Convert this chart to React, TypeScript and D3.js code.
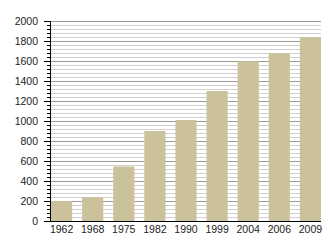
import React from "react";
import * as d3 from "d3";

const years = ["1962", "1968", "1975", "1982", "1990", "1999", "2004", "2006", "2009"];
const values = [200, 238, 545, 900, 1010, 1300, 1598, 1678, 1838];
const yTicks = [0, 200, 400, 600, 800, 1000, 1200, 1400, 1600, 1800, 2000];

export default function App() {
  const W = 330, H = 250;
  const x0 = 50.5, x1 = 321, yTop = 21, yBot = 221;
  const y = d3.scaleLinear().domain([0, 2000]).range([yBot, yTop]);
  const x = d3.scaleBand<string>().domain(years).range([51, 321]).paddingInner(0.32).paddingOuter(0);
  const minor = d3.range(0, 2001, 40).filter((v) => v % 200 !== 0);
  const font = "'Liberation Sans', Arial, sans-serif";
  return (
    <svg width={W} height={H} style={{ position: "absolute", left: 0, top: 0, background: "#fff" }}>
      {minor.map((v) => (
        <line key={"m" + v} x1={x0} x2={x1} y1={Math.round(y(v)) + 0.5} y2={Math.round(y(v)) + 0.5} stroke="#d0d0d0" strokeWidth={1} />
      ))}
      {yTicks.filter((v) => v > 0).map((v) => (
        <line key={"M" + v} x1={x0} x2={x1} y1={Math.round(y(v)) + 0.5} y2={Math.round(y(v)) + 0.5} stroke="#9a9a9a" strokeWidth={1} />
      ))}
      {years.map((yr, i) => (
        <rect key={yr} x={x(yr)} width={x.bandwidth()} y={y(values[i])} height={yBot - y(values[i])} fill="#cbc29c" />
      ))}
      <line x1={x0} x2={x0} y1={yTop} y2={yBot + 0.5} stroke="#000" strokeWidth={1} />
      <line x1={x0} x2={x1} y1={yBot + 0.5} y2={yBot + 0.5} stroke="#000" strokeWidth={1} />
      {minor.map((v) => (
        <line key={"mt" + v} x1={47} x2={x0} y1={Math.round(y(v)) + 0.5} y2={Math.round(y(v)) + 0.5} stroke="#000" strokeWidth={1} />
      ))}
      {yTicks.map((v) => (
        <line key={"Mt" + v} x1={44} x2={x0} y1={Math.round(y(v)) + 0.5} y2={Math.round(y(v)) + 0.5} stroke="#000" strokeWidth={1} />
      ))}
      {yTicks.map((v) => (
        <text key={"lt" + v} x={38} y={y(v)} dy="0.35em" textAnchor="end" fontFamily={font} fontSize={10.5} fill="#222">
          {v}
        </text>
      ))}
      {years.map((yr) => (
        <text key={"xl" + yr} x={(x(yr) as number) + x.bandwidth() / 2} y={229} dy="0.35em" textAnchor="middle" fontFamily={font} fontSize={10.5} fill="#222">
          {yr}
        </text>
      ))}
    </svg>
  );
}
